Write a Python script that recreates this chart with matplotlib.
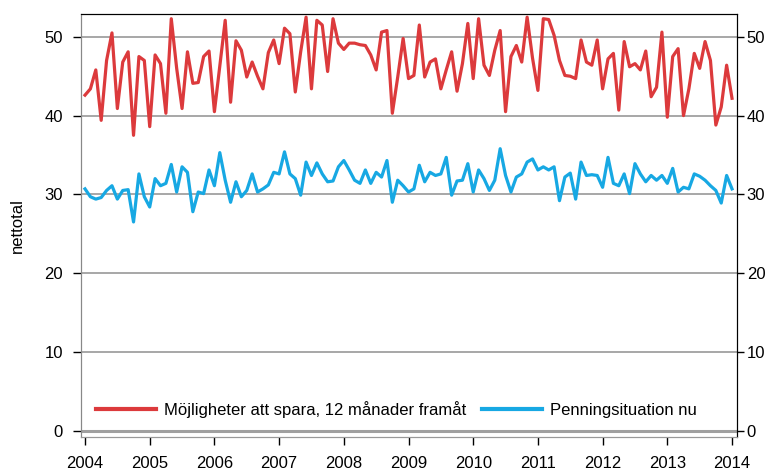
import numpy as np
import matplotlib
matplotlib.use("Agg")
import matplotlib.pyplot as plt

plt.rcParams['font.family'] = ['Liberation Sans', 'DejaVu Sans']

# monthly values, Jan 2004 .. Jan 2014
spara = [42.6, 43.4, 45.8, 39.4, 47.0, 50.5, 40.9, 46.8, 48.1, 37.5, 47.5, 47.0,
         38.6, 47.7, 46.6, 40.3, 52.3, 46.0, 40.9, 48.1, 44.1, 44.2, 47.5, 48.2,
         40.5, 46.3, 52.1, 41.7, 49.5, 48.3, 44.9, 46.8, 45.0, 43.4, 48.0, 49.6,
         46.6, 51.1, 50.4, 43.0, 48.1, 52.5, 43.4, 52.1, 51.5, 45.6, 52.3, 49.2,
         48.4, 49.2, 49.2, 49.0, 48.9, 47.7, 45.8, 50.6, 50.8, 40.3, 44.9, 49.8,
         44.7, 45.1, 51.5, 44.9, 46.8, 47.2, 43.4, 45.8, 48.1, 43.1, 46.6, 51.7,
         44.7, 52.3, 46.4, 45.1, 48.3, 50.8, 40.5, 47.5, 48.9, 46.8, 52.5, 47.3,
         43.2, 52.3, 52.2, 50.2, 47.0, 45.1, 45.0, 44.7, 49.6, 46.8, 46.4, 49.6,
         43.4, 47.2, 47.9, 40.7, 49.4, 46.2, 46.6, 45.8, 48.2, 42.4, 43.6, 50.6,
         39.8, 47.5, 48.5, 40.0, 43.4, 47.9, 46.0, 49.4, 47.0, 38.8, 41.1, 46.4,
         42.2]
penning = [30.7, 29.7, 29.4, 29.6, 30.5, 31.1, 29.4, 30.5, 30.6, 26.5, 32.6, 29.7,
           28.4, 32.0, 31.1, 31.4, 33.8, 30.3, 33.5, 32.8, 27.8, 30.3, 30.1, 33.1,
           31.1, 35.3, 31.8, 29.0, 31.6, 29.7, 30.5, 32.6, 30.3, 30.7, 31.2, 32.8,
           32.6, 35.4, 32.6, 32.0, 29.9, 34.1, 32.4, 34.0, 32.6, 31.6, 31.7, 33.5,
           34.3, 33.1, 31.8, 31.4, 33.1, 31.4, 32.8, 32.2, 34.3, 29.0, 31.8, 31.1,
           30.3, 30.7, 33.7, 31.6, 32.8, 32.4, 32.6, 34.7, 29.9, 31.7, 31.8, 33.9,
           30.3, 33.1, 32.0, 30.5, 31.8, 35.8, 32.4, 30.3, 32.2, 32.6, 34.1, 34.5,
           33.1, 33.5, 33.1, 33.5, 29.2, 32.2, 32.7, 29.4, 34.1, 32.4, 32.5, 32.4,
           30.9, 34.7, 31.4, 31.1, 32.6, 30.1, 33.9, 32.6, 31.6, 32.4, 31.8, 32.4,
           31.4, 33.3, 30.3, 30.9, 30.7, 32.6, 32.3, 31.8, 31.1, 30.5, 28.9, 32.4,
           30.7]
labels = ['Möjligheter att spara, 12 månader framåt', 'Penningsituation nu']
years = list(range(2004, 2015))
yticks = [0, 10, 20, 30, 40, 50]

t = 2004 + np.arange(len(spara)) / 12.0

fig = plt.figure(figsize=(7.72, 4.72), dpi=100)
ax = fig.add_axes([81/772, 1 - 437/472, (737 - 81)/772, (437 - 14)/472])

for y in yticks:
    ax.axhline(y, color='#a0a0a0', lw=1.3 if y else 2.2, zorder=1)

ax.plot(t, spara, color='#dc3a3c', lw=2.3, label=labels[0], zorder=3)
ax.plot(t, penning, color='#17a8e3', lw=2.3, label=labels[1], zorder=3)

ax.set_xlim(2004 - 0.062, 2014 + 0.077)
ax.set_ylim(-0.8, 52.9)
ax.set_xticks(years)
ax.set_yticks(yticks)
ax.tick_params(direction='out', length=6, width=1, labelsize=12, colors='black')
ax.tick_params(axis='x', pad=8)
ax.tick_params(axis='y', pad=7)
ax.set_ylabel('nettotal', fontsize=12, labelpad=14)

ax2 = ax.twinx()
ax2.set_ylim(ax.get_ylim())
ax2.set_yticks(yticks)
ax2.tick_params(direction='out', length=5, width=1, labelsize=12, pad=2)

for a in (ax, ax2):
    a.spines['top'].set_color('black')
    a.spines['right'].set_color('black')
    a.spines['left'].set_color('#888888')
    a.spines['bottom'].set_color('#999999')

leg = ax.legend(loc='lower left', bbox_to_anchor=(0.0, 0.01), ncol=2, frameon=False,
                fontsize=12, handlelength=3.6, handletextpad=0.5, columnspacing=0.9)
for line in leg.get_lines():
    line.set_linewidth(3)

fig.savefig('out.png', dpi=100)
